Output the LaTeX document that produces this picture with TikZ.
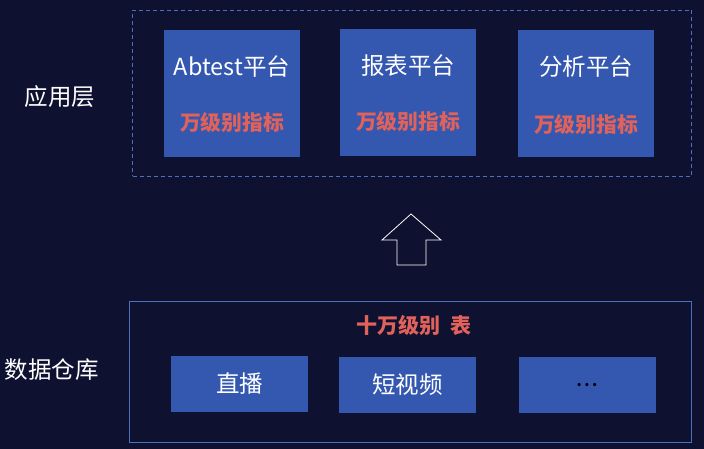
\documentclass[tikz,border=0pt]{standalone}
\usepackage{fontspec}
\setmainfont{Noto Sans CJK SC}
\usetikzlibrary{positioning}
\definecolor{bgnavy}{HTML}{0F1131}
\definecolor{boxblue}{HTML}{3458B0}
\definecolor{lblred}{HTML}{E0625A}
\definecolor{frameblue}{HTML}{4A70BE}

\begin{document}
\begin{tikzpicture}[
    x=1pt, y=-1pt,
    plat/.style={fill=boxblue, minimum width=136pt, minimum height=127pt, inner sep=0pt},
    tbl/.style={fill=boxblue, minimum width=137pt, minimum height=56pt, inner sep=0pt,
      text=white, font=\fontsize{23.5}{26}\selectfont},
    title/.style={text=white, font=\fontsize{23.5}{26}\selectfont},
    metric/.style={text=lblred, font=\bfseries\fontsize{20.8}{24}\selectfont},
    layer/.style={text=white, font=\fontsize{23.5}{26}\selectfont},
  ]
  \fill[bgnavy] (0,0) rectangle (704,449);
  \useasboundingbox (0,0) rectangle (704,449);

  % application layer
  \node[draw=frameblue, dash pattern=on 4pt off 3pt, minimum width=559pt, minimum height=166pt] (appframe) at (412,93.5) {};
  \node[plat] (abtest) at (232,94) {};
  \node[plat] (report) at (408,92.5) {};
  \node[plat] (analysis) at (586,94) {};
  \node[title] (abtesttitle) at (232,67) {Abtest平台};
  \node[title] (reporttitle) at (408,66) {报表平台};
  \node[title] (analysistitle) at (586,67) {分析平台};
  \node[metric] (abtestmetric) at (232,123) {万级别指标};
  \node[metric] (reportmetric) at (408,122) {万级别指标};
  \node[metric] (analysismetric) at (586,125) {万级别指标};
  \node[layer] (applabel) at (60,97) {应用层};

  % block arrow between the layers
  \draw[white, fill=bgnavy, thick] (411,214) -- (441,240) -- (426,240) -- (426,265)
    -- (397,265) -- (397,240) -- (382,240) -- cycle;

  % data warehouse
  \node[draw=frameblue, thick, minimum width=562pt, minimum height=141pt] (dwframe) at (410.5,372) {};
  \node[metric, font=\bfseries\fontsize{21}{24}\selectfont] (dwtitle) at (414,325) {十万级别\hspace{0.45em}表};
  \node[tbl] (live) at (239.5,383.5) {直播};
  \node[tbl] (shortvideo) at (407.5,385) {短视频};
  \node[tbl, text=black, font=\bfseries\fontsize{15}{16}\selectfont] (more) at (587,385) {\raisebox{-4pt}{.\,.\,.}};
  \node[layer] (dwlabel) at (52,370) {数据仓库};
\end{tikzpicture}
\end{document}
